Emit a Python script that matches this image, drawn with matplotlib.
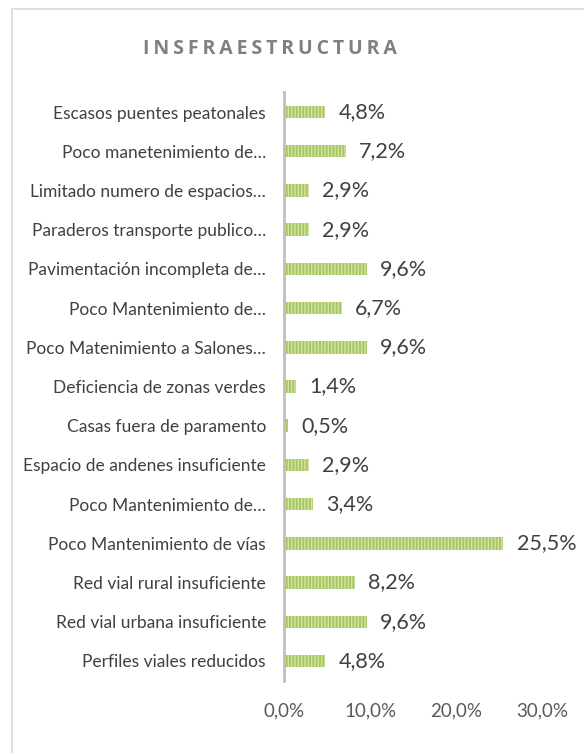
import matplotlib
matplotlib.use("Agg")
import matplotlib.pyplot as plt
from matplotlib.patches import Rectangle

# ------------------------------------
# Data (top to bottom as in the chart)
# ------------------------------------
categories = [
    "Escasos puentes peatonales",
    "Poco manetenimiento de…",
    "Limitado numero de espacios…",
    "Paraderos transporte publico…",
    "Pavimentación incompleta de…",
    "Poco Mantenimiento de…",
    "Poco Matenimiento a Salones…",
    "Deficiencia de zonas verdes",
    "Casas fuera de paramento",
    "Espacio de andenes insuficiente",
    "Poco Mantenimiento de…",
    "Poco Mantenimiento de vías",
    "Red vial rural insuficiente",
    "Red vial urbana insuficiente",
    "Perfiles viales reducidos",
]
values = [4.8, 7.2, 2.9, 2.9, 9.6, 6.7, 9.6, 1.4, 0.5, 2.9, 3.4, 25.5, 8.2, 9.6, 4.8]
xticks = [0, 10, 20, 30]
title = "INSFRAESTRUCTURA"

plt.rcParams['font.family'] = ['Lato', 'DejaVu Sans']
plt.rcParams['hatch.linewidth'] = 1.0

fig = plt.figure(figsize=(5.84, 7.53), dpi=100)

# chart border
fig.patches.append(Rectangle((12 / 584, -0.02), 1.0, 1 - 9 / 753 + 0.02,
                             transform=fig.transFigure, fill=False,
                             edgecolor="#d9d9d9", linewidth=1.2))

ax = fig.add_axes([284 / 584, 1 - 680.6 / 753, (542 - 284) / 584, 588.2 / 753])

ypos = list(range(len(categories)))[::-1]
ax.barh(ypos, values, height=0.32, color="#a6c760", edgecolor="#d4e4a8",
        hatch="|||||", linewidth=0)

for y, v in zip(ypos, values):
    ax.text(v + 1.55, y, f"{v:.1f}%".replace(".", ","), va="center", ha="left",
            fontsize=15.5, color="#404040", clip_on=False)

ax.set_xlim(0, 30)
ax.set_ylim(-0.5, len(categories) - 0.5)
ax.set_yticks(ypos)
ax.set_yticklabels(categories, fontsize=12.5, color="#404040")
ax.set_xticks(xticks)
ax.set_xticklabels([f"{t:.1f}%".replace(".", ",") for t in xticks],
                   fontsize=13.5, color="#595959")
ax.tick_params(axis="both", length=0)
ax.tick_params(axis="y", pad=13)
ax.tick_params(axis="x", pad=16)

for s in ["top", "right", "bottom"]:
    ax.spines[s].set_visible(False)
ax.spines["left"].set_color("#bfbfbf")
ax.spines["left"].set_linewidth(2)

fig.text(270 / 584, 1 - 49 / 753, "\u2009".join(title), ha="center", va="center",
         fontsize=14, fontweight="bold", color="#808080",
         family=['Open Sans', 'DejaVu Sans'])

fig.savefig("out.png", dpi=100)
